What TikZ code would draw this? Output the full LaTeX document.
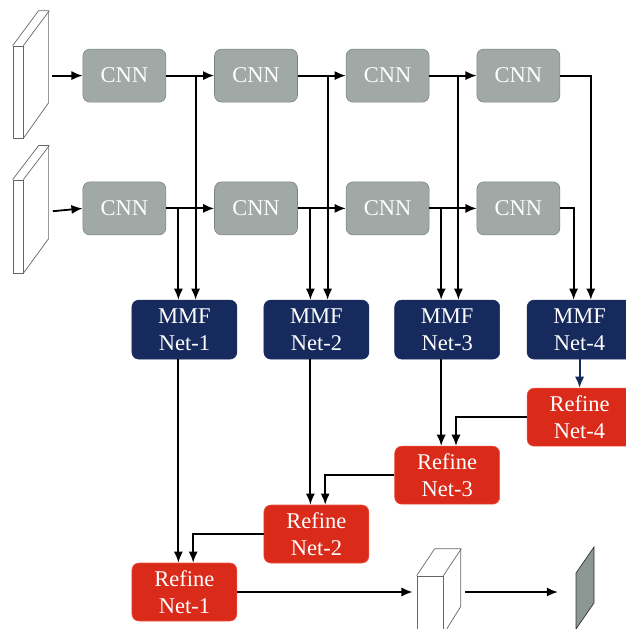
\documentclass[tikz,border=0pt]{standalone}
\usepackage{fontspec}
\setmainfont{Liberation Serif}
\usetikzlibrary{arrows.meta,positioning,calc}
\definecolor{cnnfill}{RGB}{160,169,166}
\definecolor{cnnline}{RGB}{122,130,127}
\definecolor{mmfblue}{RGB}{22,42,94}
\definecolor{refred}{RGB}{218,42,26}
\definecolor{refline}{RGB}{238,86,66}
\definecolor{outgray}{RGB}{140,150,147}

\begin{document}
\begin{tikzpicture}[
  every node/.style={font=\fontsize{16}{19}\selectfont},
  cnn/.style={draw=cnnline,fill=cnnfill,text=white,rounded corners=5pt,inner sep=0pt,minimum width=2.075cm,minimum height=1.325cm},
  mmf/.style={draw=mmfblue,fill=mmfblue,text=white,rounded corners=5pt,align=center,inner sep=0pt,minimum width=2.625cm,minimum height=1.475cm},
  refine/.style={draw=refline,fill=refred,text=white,rounded corners=5pt,align=center,inner sep=0pt,minimum width=2.625cm,minimum height=1.45cm},
  slab/.style={draw=black!60,line width=0.5pt,fill=white,inner sep=0pt,minimum width=0.25cm,minimum height=2.3cm},
  ar/.style={-{Latex[length=2.8mm,width=2.3mm]},line width=1.3pt}]
\useasboundingbox (0,0) rectangle (15.65,-15.725);
\node[slab] (in1) at (0.45,-2.3) {};
\draw[black!60,line width=0.5pt] (in1.north west) -- ++(0.65,0.875) -- ++(0.25,0) -- ++(0,-2.3) -- (in1.south east);
\draw[black!60,line width=0.5pt] (in1.north east) -- ++(0.65,0.875);
\node[slab,minimum height=2.325cm] (in2) at (0.45,-5.66) {};
\draw[black!60,line width=0.5pt] (in2.north west) -- ++(0.65,0.85) -- ++(0.25,0) -- ++(0,-2.325) -- (in2.south east);
\draw[black!60,line width=0.5pt] (in2.north east) -- ++(0.65,0.85);
\coordinate (s1) at (1.3,-1.89);
\coordinate (s2) at (1.32,-5.28);
\node[cnn] (c11) at (3.11,-1.89) {CNN};
\node[cnn] (c12) at (6.40,-1.89) {CNN};
\node[cnn] (c13) at (9.69,-1.89) {CNN};
\node[cnn] (c14) at (12.96,-1.89) {CNN};
\node[cnn] (c21) at (3.11,-5.21) {CNN};
\node[cnn] (c22) at (6.40,-5.21) {CNN};
\node[cnn] (c23) at (9.69,-5.21) {CNN};
\node[cnn] (c24) at (12.96,-5.21) {CNN};
\node[mmf] (m1) at (4.61,-8.24) {MMF\\Net-1};
\node[mmf] (m2) at (7.91,-8.24) {MMF\\Net-2};
\node[mmf] (m3) at (11.18,-8.24) {MMF\\Net-3};
\node[mmf] (m4) at (14.49,-8.24) {MMF\\Net-4};
\node[refine] (r4) at (14.49,-10.43) {Refine\\Net-4};
\node[refine] (r3) at (11.18,-11.88) {Refine\\Net-3};
\node[refine] (r2) at (7.91,-13.35) {Refine\\Net-2};
\node[refine] (r1) at (4.61,-14.80) {Refine\\Net-1};
\node[slab,minimum width=0.65cm,minimum height=1.45cm] (cube) at (10.75,-15.125) {};
\draw[black!60,line width=0.5pt] (cube.north west) -- ++(0.45,0.675) -- ++(0.65,0) -- ++(0,-1.45) -- (cube.south east);
\draw[black!60,line width=0.5pt] (cube.north east) -- ++(0.45,0.675);
\coordinate (pl) at (14.4,-14.325);
\draw[black!80,line width=0.5pt,fill=outgray] (pl) -- ++(0.45,0.65) -- ++(0,-1.4) -- ++(-0.45,-0.65) -- cycle;
\draw[ar] (s1) -- (c11.west); \draw[ar] (s2) -- (c21.west);
\draw[ar] (c11.east) -- (c12.west); \draw[ar] (c12.east) -- (c13.west); \draw[ar] (c13.east) -- (c14.west);
\draw[ar] (c21.east) -- (c22.west); \draw[ar] (c22.east) -- (c23.west); \draw[ar] (c23.east) -- (c24.west);
\draw[ar] (c11.east) -| ([xshift=0.28cm]m1.north); \draw[ar] (c21.east) -| ([xshift=-0.15cm]m1.north);
\draw[ar] (c12.east) -| ([xshift=0.28cm]m2.north); \draw[ar] (c22.east) -| ([xshift=-0.15cm]m2.north);
\draw[ar] (c13.east) -| ([xshift=0.28cm]m3.north); \draw[ar] (c23.east) -| ([xshift=-0.15cm]m3.north);
\draw[ar] (c14.east) -| ([xshift=0.28cm]m4.north); \draw[ar] (c24.east) -| ([xshift=-0.15cm]m4.north);
\draw[ar,mmfblue] (m4.south) -- (r4.north);
\draw[ar] ([xshift=-0.15cm]m3.south) -- ([xshift=-0.15cm]r3.north);
\draw[ar] ([xshift=-0.15cm]m2.south) -- ([xshift=-0.15cm]r2.north);
\draw[ar] ([xshift=-0.15cm]m1.south) -- ([xshift=-0.15cm]r1.north);
\draw[ar] (r4.west) -| ([xshift=0.22cm]r3.north);
\draw[ar] (r3.west) -| ([xshift=0.22cm]r2.north);
\draw[ar] (r2.west) -| ([xshift=0.22cm]r1.north);
\draw[ar] (r1.east) -- ([xshift=-0.1cm]r1.east -| cube.west);
\draw[ar,shorten <=0.55cm,shorten >=0.45cm] (r1.east -| cube.east) -- (r1.east -| pl);
\end{tikzpicture}
\end{document}
